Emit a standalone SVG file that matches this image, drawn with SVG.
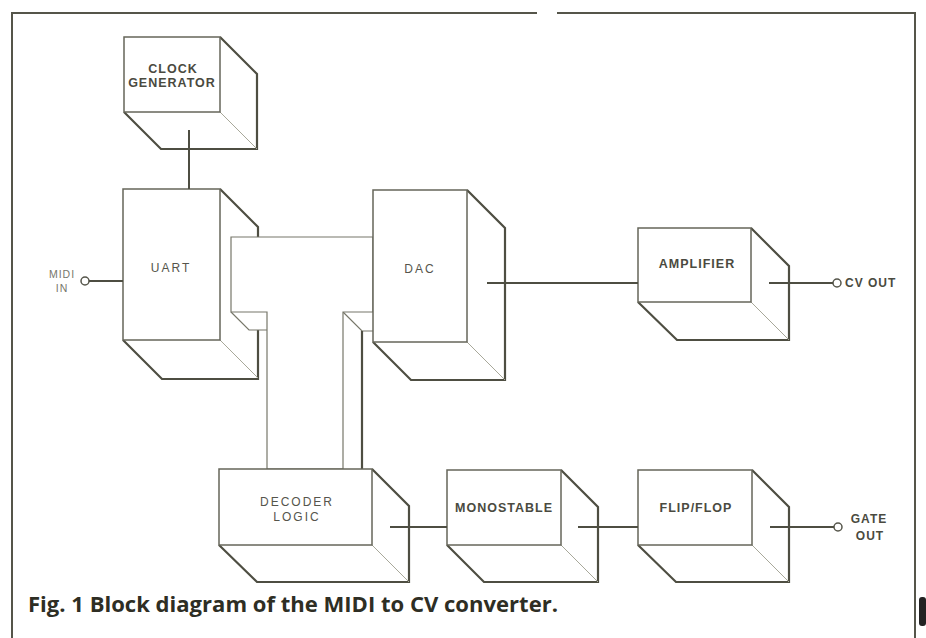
<svg xmlns="http://www.w3.org/2000/svg" width="926" height="638" viewBox="0 0 926 638">
<style>
.front{fill:#fff;stroke:#66665a;stroke-width:1.5}
.ext{fill:#fff;stroke:#4e4e42;stroke-width:2.2;stroke-linejoin:miter}
.inner{fill:none;stroke:#a8a89a;stroke-width:1}
.thin{fill:none;stroke:#77776a;stroke-width:1.2}
.conn{fill:none;stroke:#4e4e42;stroke-width:2}
.term{fill:#fff;stroke:#55554a;stroke-width:1.5}
.frame{fill:none;stroke:#55554a;stroke-width:2}
.lb{font-family:"Liberation Sans",Arial,sans-serif;font-weight:bold;font-size:12.5px;fill:#4a4a40;letter-spacing:1px;text-anchor:middle}
.ln{font-family:"Liberation Sans",Arial,sans-serif;font-size:12px;fill:#55554c;letter-spacing:2px;text-anchor:middle}
.ls{font-family:"Liberation Sans",Arial,sans-serif;font-size:10.5px;fill:#77776c;letter-spacing:1px;text-anchor:middle}
.cap{font-family:"Open Sans","Noto Sans",sans-serif;font-weight:bold;font-size:21px;fill:#2e2e24}
</style>
<rect width="926" height="638" fill="#fff"/>
<g id="frame">
<path class="frame" d="M12,640 V13 H537 M557,13 H915 V640"/>
<rect x="919" y="597" width="7" height="29" rx="3" fill="#222"/>
</g>
<g id="clock">
<path class="ext" d="M220,37 L257,74 V149 H161 L124,112"/>
<path class="inner" d="M220,112 L257,149"/>
<rect class="front" x="124" y="37" width="96" height="75"/>
<text class="lb" x="173" y="73">CLOCK</text>
<text class="lb" x="172" y="87">GENERATOR</text>
</g>
<g id="uart">
<path class="ext" d="M220,189 L258,227 V379 H162 L123,340"/>
<path class="inner" d="M220,340 L258,378"/>
<rect class="front" x="123" y="189" width="97" height="151"/>
<text class="ln" x="171" y="272">UART</text>
</g>
<g id="bus">
<path fill="#fff" stroke="none" d="M231,312 L249,330 H267 V312 Z M343,312 L362,331 H373 V469 H343 Z"/>
<path class="thin" d="M231,312 L249,330 H267"/>
<path class="thin" d="M343,312 L362,331 H373"/>
<path class="ext" d="M362,331 V469"/>
<path class="front" style="stroke:#77776a;stroke-width:1.2" d="M231,237 H373 V312 H343 V469 H267 V312 H231 Z"/>
</g>
<g id="dac">
<path class="ext" d="M467,190 L505,228 V380 H411 L373,342"/>
<path class="inner" d="M467,342 L505,380"/>
<rect class="front" x="373" y="190" width="94" height="152"/>
<text class="ln" x="420" y="273">DAC</text>
</g>
<g id="amplifier">
<path class="ext" d="M751,228 L789,266 V340 H677 L638,302"/>
<path class="inner" d="M751,302 L789,340"/>
<rect class="front" x="638" y="228" width="113" height="74"/>
<text class="lb" x="697" y="268">AMPLIFIER</text>
</g>
<g id="decoder">
<path class="ext" d="M372,469 L409,506 V582 H257 L219,545"/>
<path class="inner" d="M372,545 L409,582"/>
<rect class="front" x="219" y="469" width="153" height="76"/>
<text class="ln" x="297" y="506">DECODER</text>
<text class="ln" x="297" y="521">LOGIC</text>
</g>
<g id="monostable">
<path class="ext" d="M561,470 L598,507 V582 H484 L447,545"/>
<path class="inner" d="M561,545 L598,582"/>
<rect class="front" x="447" y="470" width="114" height="75"/>
<text class="lb" x="504" y="512">MONOSTABLE</text>
</g>
<g id="flipflop">
<path class="ext" d="M752,470 L789,507 V582 H676 L638,545"/>
<path class="inner" d="M752,545 L789,582"/>
<rect class="front" x="638" y="470" width="114" height="75"/>
<text class="lb" x="696" y="512">FLIP/FLOP</text>
</g>
<g id="midi-in">
<circle class="term" cx="85" cy="281" r="4"/>
<text class="ls" x="62" y="278">MIDI</text>
<text class="ls" x="62" y="292">IN</text>
</g>
<g id="cv-out">
<circle class="term" cx="837" cy="283" r="4"/>
<text class="lb" x="845" y="287" style="text-anchor:start;font-size:12px">CV OUT</text>
</g>
<g id="gate-out">
<circle class="term" cx="838" cy="527" r="4"/>
<text class="lb" x="869" y="523" style="font-size:12px">GATE</text>
<text class="lb" x="870" y="540" style="font-size:12px">OUT</text>
</g>
<g id="connectors">
<path class="conn" d="M189,130 V189"/>
<path class="conn" d="M89,281 H123"/>
<path class="conn" d="M487,283 H638"/>
<path class="conn" d="M769,283 H833"/>
<path class="conn" d="M390,527 H447"/>
<path class="conn" d="M578,527 H638"/>
<path class="conn" d="M770,527 H834"/>
</g>
<text id="caption" class="cap" x="28" y="612" textLength="530" lengthAdjust="spacingAndGlyphs">Fig. 1 Block diagram of the MIDI to CV converter.</text>
</svg>
